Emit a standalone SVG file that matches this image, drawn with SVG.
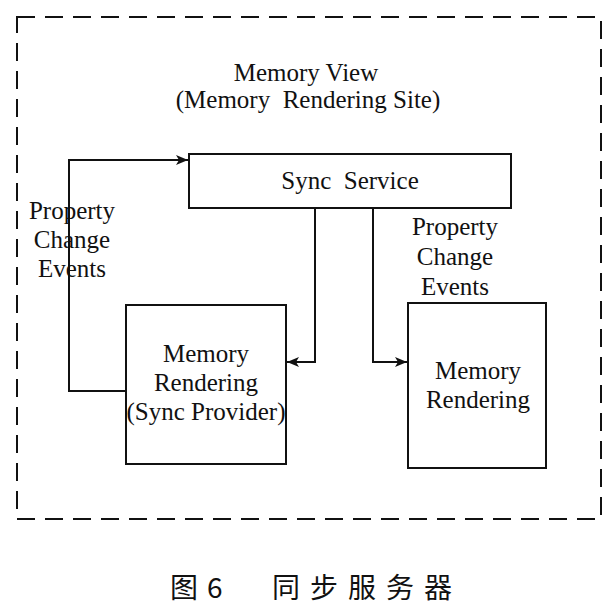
<svg xmlns="http://www.w3.org/2000/svg" width="616" height="613" viewBox="0 0 616 613">
<style>
.t{font-family:'Liberation Serif','Times New Roman','DejaVu Serif',serif;font-size:25px;fill:#111;text-anchor:middle}
.box{fill:#fff;stroke:#111;stroke-width:2}
.c{fill:none;stroke:#111;stroke-width:2}
.cap{font-family:'Noto Sans CJK SC','Noto Sans CJK JP',sans-serif;font-size:28px;fill:#111}
</style>
<defs>
<marker id="ah" viewBox="0 0 12 10" refX="12" refY="5" markerWidth="12" markerHeight="10" markerUnits="userSpaceOnUse" orient="auto">
<path d="M0,0 L12,5 L0,10 L3,5 Z" fill="#111"/>
</marker>
</defs>
<rect x="17" y="17" width="584" height="502" fill="none" stroke="#111" stroke-width="2" stroke-dasharray="18,10"/>
<g id="title">
<text class="t" x="306" y="81">Memory View</text>
<text class="t" x="308" y="108" xml:space="preserve">(Memory  Rendering Site)</text>
</g>
<g id="connectors">
<path class="c" d="M126,391 H69 V160 H188" marker-end="url(#ah)"/>
<path class="c" d="M315,208 V362 H287" marker-end="url(#ah)"/>
<path class="c" d="M373,208 V362 H407" marker-end="url(#ah)"/>
</g>
<g id="sync-service">
<rect class="box" x="189" y="154" width="322" height="54"/>
<text class="t" x="350" y="189" xml:space="preserve">Sync  Service</text>
</g>
<g id="sync-provider">
<rect class="box" x="126" y="305" width="160" height="159"/>
<text class="t" x="206" y="362">Memory</text>
<text class="t" x="206" y="391">Rendering</text>
<text class="t" x="206" y="420">(Sync Provider)</text>
</g>
<g id="memory-rendering">
<rect class="box" x="408" y="303" width="138" height="165"/>
<text class="t" x="478" y="379">Memory</text>
<text class="t" x="478" y="408">Rendering</text>
</g>
<g id="label-left">
<text class="t" x="72" y="219">Property</text>
<text class="t" x="72" y="248">Change</text>
<text class="t" x="72" y="277">Events</text>
</g>
<g id="label-right">
<text class="t" x="455" y="235">Property</text>
<text class="t" x="455" y="265">Change</text>
<text class="t" x="455" y="295">Events</text>
</g>
<g id="caption">
<text class="cap" x="170" y="598">图</text>
<text class="cap" x="207" y="598">6</text>
<text class="cap" x="272" y="598" letter-spacing="10">同步服务器</text>
</g>
</svg>
